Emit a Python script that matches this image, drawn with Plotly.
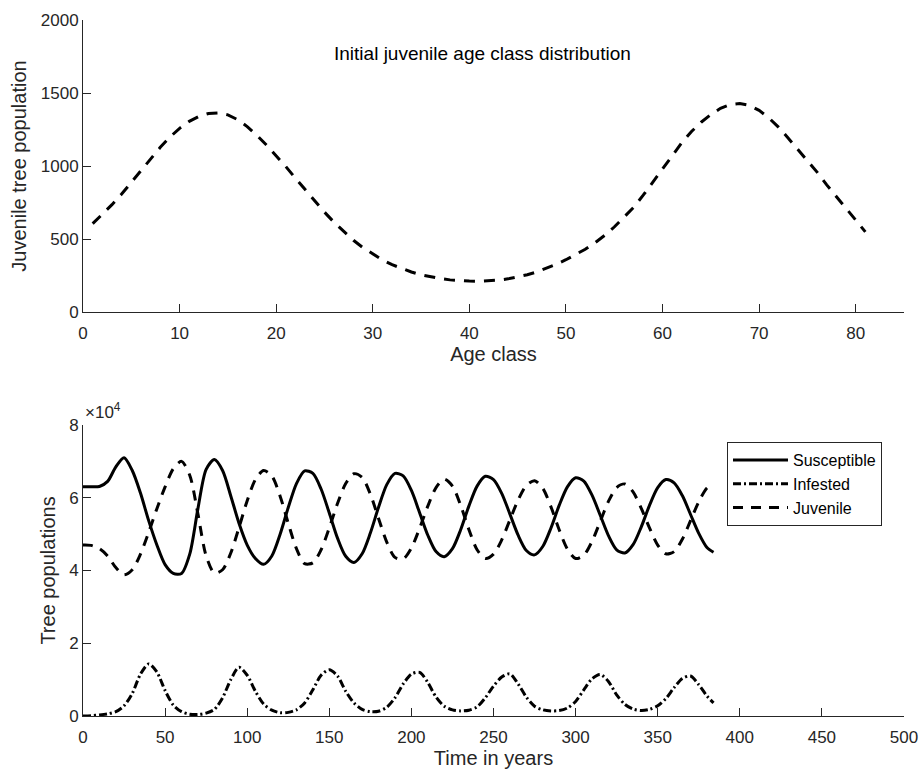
import plotly.graph_objects as go

# ---------------- data ----------------
age_class = list(range(1, 82))
juvenile_initial = [
    605, 668, 735, 808, 886, 968, 1050, 1128, 1198, 1258,
    1306, 1340, 1360, 1364, 1350, 1318, 1270, 1210, 1143, 1072,
    996, 916, 836, 758, 684, 614, 550, 491, 440, 396,
    357, 324, 297, 274, 255, 240, 229, 220, 215, 212,
    211, 213, 218, 227, 239, 255, 275, 299, 327, 358,
    392, 430, 474, 524, 582, 646, 716, 800, 890, 985,
    1075, 1160, 1236, 1300, 1352, 1395, 1421, 1428, 1415, 1381,
    1330, 1266, 1192, 1114, 1040, 958, 871, 789, 707, 627,
    549,
]

time_years = list(range(0, 385, 5)) + [384]

# populations in units of 10^4
susceptible = [
    6.30, 6.30, 6.31, 6.45, 6.85, 7.10, 6.75, 6.13, 5.37, 4.70,
    4.16, 3.92, 3.92, 4.45, 5.70, 6.78, 7.05, 6.75, 6.05, 5.30,
    4.70, 4.33, 4.17, 4.40, 4.99, 5.73, 6.39, 6.74, 6.67, 6.24,
    5.58, 4.89, 4.39, 4.22, 4.46, 5.03, 5.74, 6.36, 6.67, 6.60,
    6.20, 5.59, 4.97, 4.52, 4.38, 4.60, 5.12, 5.77, 6.32, 6.59,
    6.50, 6.12, 5.55, 4.97, 4.55, 4.43, 4.66, 5.17, 5.79, 6.30,
    6.55, 6.46, 6.07, 5.52, 4.96, 4.57, 4.48, 4.71, 5.20, 5.79,
    6.28, 6.50, 6.41, 6.06, 5.54, 5.02, 4.63, 4.50,
]
infested = [
    0.00, 0.01, 0.03, 0.06, 0.12, 0.28, 0.62, 1.15, 1.43, 1.21,
    0.70, 0.30, 0.12, 0.05, 0.04, 0.08, 0.18, 0.50, 1.00, 1.34,
    1.12, 0.68, 0.33, 0.16, 0.09, 0.10, 0.17, 0.36, 0.72, 1.12,
    1.27, 1.10, 0.68, 0.36, 0.18, 0.12, 0.13, 0.24, 0.50, 0.88,
    1.15, 1.20, 0.92, 0.52, 0.27, 0.17, 0.14, 0.16, 0.25, 0.50,
    0.82, 1.07, 1.16, 0.88, 0.52, 0.27, 0.17, 0.14, 0.15, 0.22,
    0.40, 0.72, 1.02, 1.14, 0.95, 0.58, 0.32, 0.19, 0.15, 0.18,
    0.28, 0.48, 0.78, 1.03, 1.10, 0.86, 0.55, 0.36,
]
juvenile = [
    4.70, 4.69, 4.60, 4.40, 4.08, 3.88, 4.02, 4.45, 5.05, 5.70,
    6.30, 6.80, 7.00, 6.62, 5.55, 4.40, 3.93, 4.02, 4.48, 5.18,
    5.92, 6.50, 6.75, 6.60, 6.05, 5.30, 4.60, 4.19, 4.21, 4.57,
    5.17, 5.84, 6.39, 6.66, 6.56, 6.10, 5.43, 4.78, 4.36, 4.32,
    4.62, 5.16, 5.77, 6.28, 6.51, 6.32, 5.79, 5.13, 4.57, 4.33,
    4.45, 4.84, 5.39, 5.94, 6.34, 6.47, 6.26, 5.75, 5.12, 4.59,
    4.33, 4.42, 4.80, 5.35, 5.90, 6.28, 6.38, 6.16, 5.71, 5.17,
    4.70, 4.46, 4.52, 4.86, 5.37, 5.89, 6.27, 6.38,
]

top_xticks = [0, 10, 20, 30, 40, 50, 60, 70, 80]
top_yticks = [0, 500, 1000, 1500, 2000]
bot_xticks = [0, 50, 100, 150, 200, 250, 300, 350, 400, 450, 500]
bot_yticks = [0, 2, 4, 6, 8]

# ---------------- style ----------------
FONT = "Liberation Sans, Arial, Helvetica, sans-serif"
AX = "#262626"
LW = 3

fig = go.Figure()

fig.add_trace(go.Scatter(
    x=age_class, y=juvenile_initial, mode="lines",
    line=dict(color="black", width=LW, dash="11px,9px"),
    showlegend=False, xaxis="x", yaxis="y"))

fig.add_trace(go.Scatter(
    x=time_years, y=susceptible, mode="lines", name="Susceptible",
    line=dict(color="black", width=LW, shape="spline", smoothing=0.8),
    xaxis="x2", yaxis="y2"))
fig.add_trace(go.Scatter(
    x=time_years, y=infested, mode="lines", name="Infested",
    line=dict(color="black", width=LW, dash="8px,3px,2px,3px", shape="spline", smoothing=0.8),
    xaxis="x2", yaxis="y2"))
fig.add_trace(go.Scatter(
    x=time_years, y=juvenile, mode="lines", name="Juvenile",
    line=dict(color="black", width=LW, dash="10px,8px", shape="spline", smoothing=0.8),
    xaxis="x2", yaxis="y2"))

def axis_style(**kw):
    d = dict(showline=True, linecolor=AX, linewidth=1, ticks="inside", ticklen=8,
             tickcolor=AX, tickwidth=1, showgrid=False, zeroline=False, mirror=False,
             automargin=False,
             tickfont=dict(family=FONT, size=17, color=AX))
    d.update(kw)
    return d

H, W = 770, 920
ml, mr, mt, mb = 83, 16, 20, 54
ph = H - mt - mb
pw = W - ml - mr
top_dom = [(716 - 312) / ph, 1.0]
bot_dom = [0.0, (716 - 425) / ph]
TF = dict(size=20, family=FONT, color=AX)

fig.update_layout(
    width=W, height=H,
    margin=dict(l=ml, r=mr, t=mt, b=mb),
    paper_bgcolor="white", plot_bgcolor="white",
    font=dict(family=FONT, color=AX),
    xaxis=axis_style(domain=[0, 1], range=[0, 85], tickvals=top_xticks, anchor="y",
                     ticklabelstandoff=6,
                     title=dict(text="Age class", font=TF, standoff=3)),
    yaxis=axis_style(domain=top_dom, range=[0, 2000], tickvals=top_yticks, anchor="x",
                     title=dict(text="Juvenile tree population", font=TF, standoff=8)),
    xaxis2=axis_style(domain=[0, 1], range=[0, 500], tickvals=bot_xticks, anchor="y2",
                      ticklabelstandoff=6,
                      title=dict(text="Time in years", font=TF, standoff=3)),
    yaxis2=axis_style(domain=bot_dom, range=[0, 8], tickvals=bot_yticks, anchor="x2",
                      title=dict(text="Tree populations", font=TF, standoff=8)),
    legend=dict(x=(727 - ml) / pw, y=(716 - 442) / ph, xanchor="left", yanchor="top",
                bordercolor=AX, borderwidth=1, bgcolor="white",
                font=dict(family=FONT, size=16, color="black"), itemwidth=55,
                tracegroupgap=0),
    showlegend=True,
)

fig.add_annotation(text="Initial juvenile age class distribution", xref="paper", yref="paper",
                   x=(482 - ml) / pw, y=(716 - 53) / ph, xanchor="center", yanchor="middle",
                   showarrow=False, font=dict(family=FONT, size=19, color="black"))
fig.add_annotation(text="\u00d710<sup>4</sup>", xref="paper", yref="paper",
                   x=0, y=(716 - 424) / ph, xanchor="left", yanchor="bottom",
                   showarrow=False, font=dict(family=FONT, size=17, color=AX))

fig.write_html("out.html")
